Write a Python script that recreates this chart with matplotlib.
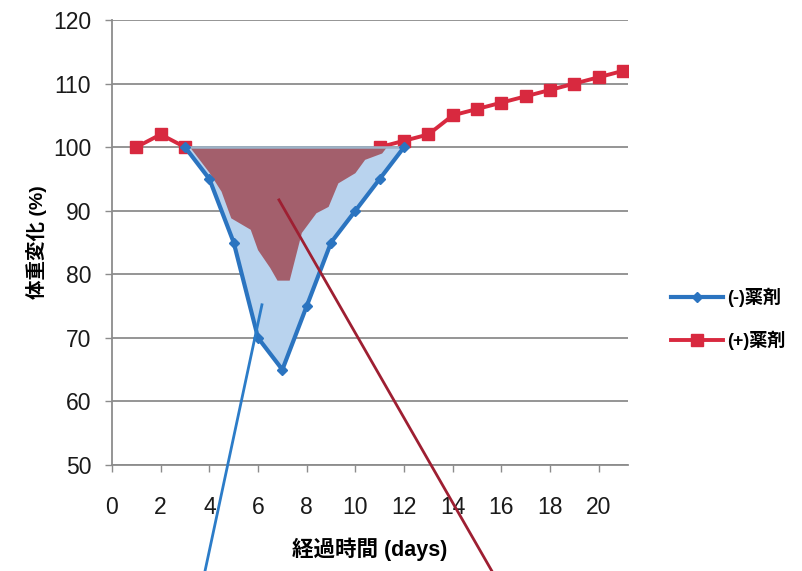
import numpy as np
import matplotlib.pyplot as plt

plt.rcParams['font.family'] = ['Liberation Sans', 'Noto Sans CJK JP']

# body weight change (%) per day
days = np.arange(1, 22)
minus_drug = [np.nan, np.nan, 100, 95, 85, 70, 65, 75, 85, 90, 95, 100,
              np.nan, np.nan, np.nan, np.nan, np.nan, np.nan, np.nan, np.nan, np.nan]
plus_drug = [100, 102, 100, np.nan, np.nan, np.nan, np.nan, np.nan, np.nan, np.nan,
             100, 101, 102, 105, 106, 107, 108, 109, 110, 111, 112]

# outline of the shaded (+) region inside the (-) dip
plus_area_x = [3.2, 4.0, 4.5, 4.9, 5.7, 6.0, 6.5, 6.8, 7.3, 7.8, 8.4, 8.9, 9.3, 10.0, 10.4, 11.1, 11.3]
plus_area_y = [100, 96.0, 93.0, 88.8, 87.0, 83.8, 81.0, 79.0, 79.0, 86.5, 89.6, 90.6, 94.3, 95.9, 98.0, 99.0, 100]

# pointer lines running off the bottom of the chart
blue_ptr_x = [6.16, 3.82]
blue_ptr_y = [75.2, 33.3]
red_ptr_x = [6.86, 15.61]
red_ptr_y = [91.7, 33.3]

blue = '#2B74C0'
red = '#D8293F'

fig = plt.figure(figsize=(8.03, 5.71), dpi=100)
ax = fig.add_axes([112 / 803, 1 - 465 / 571, 516 / 803, 445 / 571])

m = np.array(minus_drug, dtype=float)
ok = ~np.isnan(m)
ax.fill_between(days[ok], m[ok], 100, color='#B9D3EE', zorder=3, linewidth=0)
ax.fill(plus_area_x, plus_area_y, color='#A35F6C', zorder=3.5, linewidth=0)
ax.plot([3, 12], [100, 100], color='#9DB3C8', lw=1.8, zorder=3.6)

ax.plot(days, plus_drug, color=red, lw=2.8, marker='s', ms=8.5,
        label='(+)薬剤', zorder=2.5)
ax.plot(days, minus_drug, color=blue, lw=3.0, marker='D', ms=5,
        label='(-)薬剤', zorder=4)

ax.plot(blue_ptr_x, blue_ptr_y, color='#2C7CC8', lw=2.0, clip_on=False, zorder=5)
ax.plot(red_ptr_x, red_ptr_y, color='#9E1F32', lw=2.0, clip_on=False, zorder=5)

ax.set_xlim(0, 21.2)
ax.set_ylim(50, 120)
ax.set_xticks(np.arange(0, 21, 2))
ax.set_yticks(np.arange(50, 121, 10))
ax.yaxis.grid(True, color='#8C8C8C', lw=1.3)
ax.set_axisbelow(True)
for s in ['top', 'right']:
    ax.spines[s].set_visible(False)
for s in ['left', 'bottom']:
    ax.spines[s].set_color('#8C8C8C')
    ax.spines[s].set_linewidth(1.3)
ax.tick_params(axis='both', colors='#8C8C8C', labelcolor='#1A1A1A',
               labelsize=16.5, length=5, width=1.0)
ax.tick_params(axis='x', pad=17)
ax.tick_params(axis='y', pad=10)

ax.set_xlabel('経過時間 (days)', fontsize=15.5, fontweight='bold', labelpad=14)
ax.set_ylabel('体重変化 (%)', fontsize=14, fontweight='bold', labelpad=4)

h, l = ax.get_legend_handles_labels()
fig.legend(h[::-1], l[::-1], loc='center left', bbox_to_anchor=(671 / 803, 1 - 319 / 571),
           frameon=False, prop={'size': 13, 'weight': 'bold'}, handlelength=2.9,
           handletextpad=0.2, labelspacing=1.3, borderpad=0, borderaxespad=0)

fig.savefig('out.png', dpi=100)
